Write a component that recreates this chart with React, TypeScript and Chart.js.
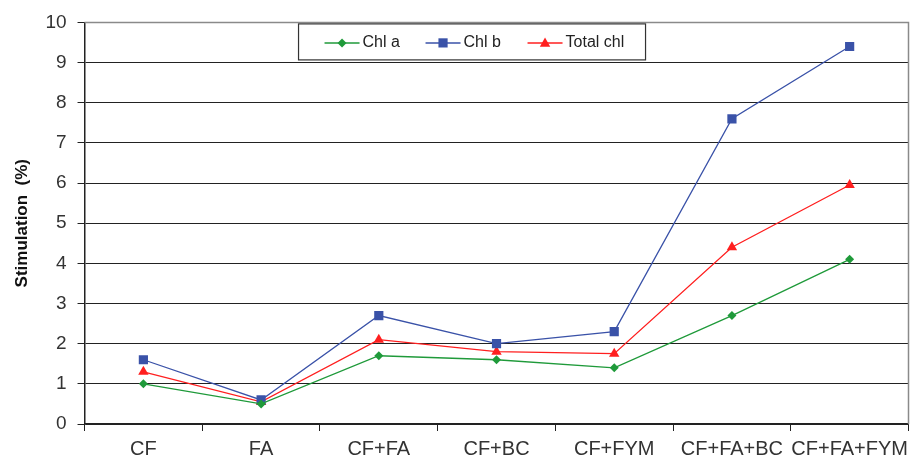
import React, { useEffect, useRef } from "react";
import { Chart, registerables } from "chart.js";

Chart.register(...registerables);

const categories = ["CF", "FA", "CF+FA", "CF+BC", "CF+FYM", "CF+FA+BC", "CF+FA+FYM"];
const chlA = [1.0, 0.5, 1.7, 1.6, 1.4, 2.7, 4.1];
const chlB = [1.6, 0.6, 2.7, 2.0, 2.3, 7.6, 9.4];
const totalChl = [1.3, 0.55, 2.1, 1.8, 1.75, 4.4, 5.95];
const yTicks = [0, 1, 2, 3, 4, 5, 6, 7, 8, 9, 10];
const seriesNames = ["Chl a", "Chl b", "Total chl"];

const GREEN = "#1f9a3a";
const BLUE = "#3a52a8";
const RED = "#ff1f1f";

function drawPoint(ctx: CanvasRenderingContext2D, style: string, r: number, x: number, y: number, color: string) {
  ctx.fillStyle = color;
  ctx.beginPath();
  if (style === "rect") {
    const s = r * Math.SQRT1_2;
    ctx.rect(x - s, y - s, 2 * s, 2 * s);
  } else if (style === "rectRot") {
    ctx.moveTo(x, y - r);
    ctx.lineTo(x + r, y);
    ctx.lineTo(x, y + r);
    ctx.lineTo(x - r, y);
    ctx.closePath();
  } else {
    ctx.moveTo(x, y - r);
    ctx.lineTo(x + r * 0.95, y + r * 0.7);
    ctx.lineTo(x - r * 0.95, y + r * 0.7);
    ctx.closePath();
  }
  ctx.fill();
}

const framePlugin = {
  id: "frame",
  afterDraw(chart: any) {
    const { ctx, chartArea } = chart;
    ctx.save();
    ctx.strokeStyle = "#8a8a8a";
    ctx.lineWidth = 1.5;
    ctx.beginPath();
    ctx.moveTo(chartArea.left, chartArea.top);
    ctx.lineTo(chartArea.right, chartArea.top);
    ctx.lineTo(chartArea.right, chartArea.bottom);
    ctx.stroke();
    ctx.restore();
  },
};

const legendPlugin = {
  id: "boxLegend",
  afterDraw(chart: any) {
    const { ctx, chartArea } = chart;
    const x0 = chartArea.left + 214;
    const y0 = chartArea.top + 1.5;
    const w = 347;
    const h = 36;
    ctx.save();
    ctx.fillStyle = "#ffffff";
    ctx.fillRect(x0, y0, w, h);
    ctx.strokeStyle = "#333";
    ctx.lineWidth = 1.2;
    ctx.strokeRect(x0, y0, w, h);
    const cy = y0 + 19;
    const items = [
      { x: x0 + 26, color: GREEN, style: "rectRot", r: 4.5, text: seriesNames[0] },
      { x: x0 + 127, color: BLUE, style: "rect", r: 6.5, text: seriesNames[1] },
      { x: x0 + 229, color: RED, style: "triangle", r: 5.5, text: seriesNames[2] },
    ];
    ctx.font = "16px 'Liberation Sans', Arial, sans-serif";
    ctx.textBaseline = "middle";
    items.forEach((it) => {
      ctx.strokeStyle = it.color;
      ctx.lineWidth = 1.5;
      ctx.beginPath();
      ctx.moveTo(it.x, cy);
      ctx.lineTo(it.x + 35, cy);
      ctx.stroke();
      drawPoint(ctx, it.style, it.r, it.x + 17.5, cy, it.color);
      ctx.fillStyle = "#222";
      ctx.fillText(it.text, it.x + 38, cy);
    });
    ctx.restore();
  },
};

export default function App() {
  const ref = useRef<HTMLCanvasElement>(null);
  useEffect(() => {
    if (!ref.current) return;
    const font = "'Liberation Sans', Arial, sans-serif";
    const chart = new Chart(ref.current, {
      type: "line",
      data: {
        labels: categories,
        datasets: [
          {
            label: seriesNames[0],
            data: chlA,
            borderColor: GREEN,
            backgroundColor: GREEN,
            borderWidth: 1.3,
            pointStyle: "rectRot",
            pointRadius: 4.5,
            pointBorderWidth: 0,
          },
          {
            label: seriesNames[1],
            data: chlB,
            borderColor: BLUE,
            backgroundColor: BLUE,
            borderWidth: 1.3,
            pointStyle: "rect",
            pointRadius: 6.5,
            pointBorderWidth: 0,
          },
          {
            label: seriesNames[2],
            data: totalChl,
            borderColor: RED,
            backgroundColor: RED,
            borderWidth: 1.3,
            pointStyle: "triangle",
            pointRadius: 6,
            pointBorderWidth: 0,
          },
        ],
      },
      options: {
        animation: false,
        responsive: true,
        maintainAspectRatio: false,
        layout: { padding: { top: 21, right: 0, left: 4, bottom: -6 } },
        plugins: {
          legend: { display: false },
          tooltip: { enabled: false },
        },
        scales: {
          x: {
            offset: true,
            grid: {
              offset: true,
              drawOnChartArea: false,
              drawTicks: true,
              tickLength: 7,
              color: "#222",
            },
            border: { color: "#222", width: 1.5 },
            ticks: {
              color: "#333",
              font: { family: font, size: 20 },
              padding: 6,
              maxRotation: 0,
              autoSkip: false,
            },
          },
          y: {
            min: 0,
            max: 10,
            afterBuildTicks: (axis: any) => {
              axis.ticks = yTicks.map((v) => ({ value: v }));
            },
            grid: {
              color: "#222",
              lineWidth: 1,
              tickLength: 7,
            },
            border: { color: "#222", width: 1.5 },
            ticks: {
              color: "#333",
              font: { family: font, size: 19 },
              padding: 11,
            },
            title: {
              display: true,
              text: "Stimulation  (%)",
              color: "#111",
              font: { family: font, size: 17, weight: "bold" },
              padding: { top: 8, bottom: 2 },
            },
          },
        },
      },
      plugins: [framePlugin, legendPlugin],
    });
    return () => chart.destroy();
  }, []);
  return (
    <div style={{ position: "fixed", left: 0, top: 0, width: 915, height: 461, background: "#fff" }}>
      <canvas ref={ref} />
    </div>
  );
}
